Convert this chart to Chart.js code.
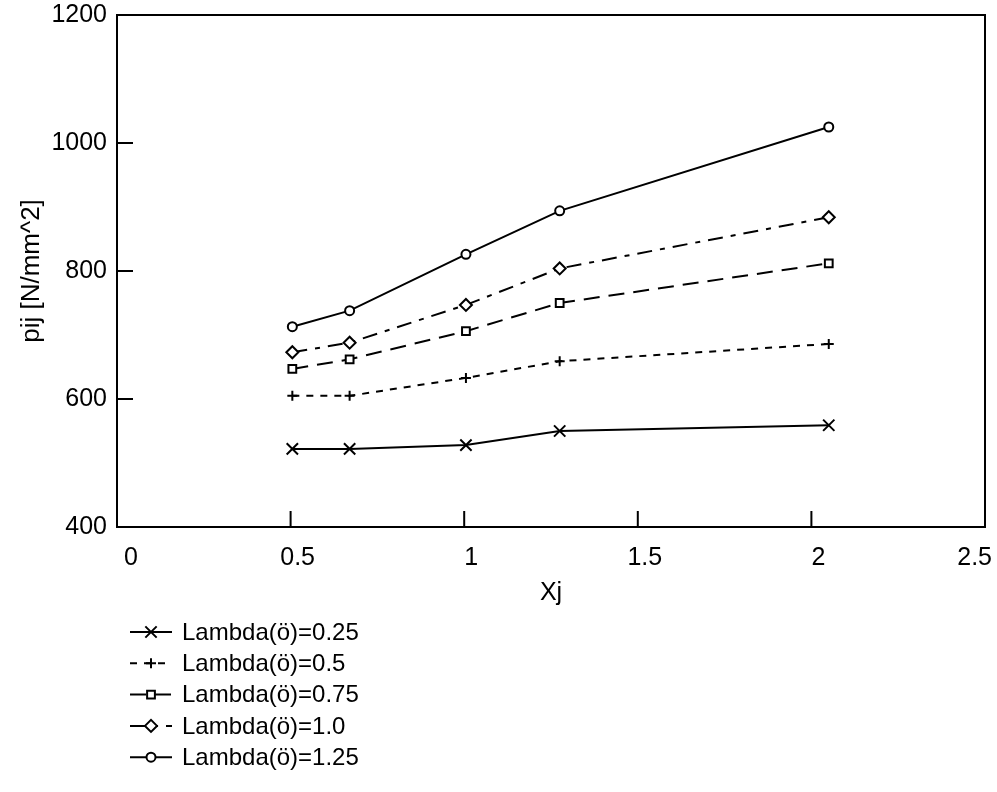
<!DOCTYPE html>
<html>
<head>
<meta charset="utf-8">
<title>pij vs Xj</title>
<script src="https://cdn.jsdelivr.net/npm/chart.js@4/dist/chart.umd.min.js"></script>
<style>
	html, body { margin:0; padding:0; background:#fff; }
	#wrap { width:997px; height:792px; }
</style>
</head>
<body>
<div id="wrap"><canvas id="pijChart" width="997" height="792"></canvas></div>
<script>

// X positions of the measured points (Xj). 
const xValues = [0.505, 0.67, 1.005, 1.275, 2.05];

// pij values [N/mm^2] for each lambda. 
const lambda025 = [522, 522, 528, 550, 559];
const lambda050 = [605, 605, 633, 659, 686];
const lambda075 = [647, 662, 706, 750, 812];
const lambda100 = [673, 688, 747, 804, 884];
const lambda125 = [713, 738, 826, 894, 1025];

// Series names. 
const seriesLabels = ['Lambda(ö)=0.25', 'Lambda(ö)=0.5', 'Lambda(ö)=0.75', 'Lambda(ö)=1.0', 'Lambda(ö)=1.25'];

// Axis ranges and tick steps. 
const xTicks = [0, 0.5, 1, 1.5, 2, 2.5];
const yTicks = [400, 600, 800, 1000, 1200];

var FONT = "'Liberation Sans', Arial, Helvetica, sans-serif";

// Pair x values with y values. 
function pts(ys) {
	return ys.map(function (y, i) { return { x: xValues[i], y: y }; });
}

function series(label, ys, dash, style, radius) {
	return {
		label: label,
		data: pts(ys),
		borderColor: '#000',
		borderWidth: 2,
		borderDash: dash,
		tension: 0,
		fill: false,
		pointStyle: style,
		pointRadius: radius,
		pointHoverRadius: radius,
		pointBorderWidth: 2,
		pointBorderColor: '#000',
		pointBackgroundColor: '#fff'
	};
}

// Frame round the plot and inward tick marks. 
const framePlugin = {
	id: 'frame',
	afterDatasetsDraw(chart) {
		const ctx = chart.ctx;
		const a = chart.chartArea;
		const sx = chart.scales.x, sy = chart.scales.y;
		ctx.save();
		ctx.strokeStyle = '#000';
		ctx.lineWidth = 2;
		ctx.setLineDash([]);
		ctx.strokeRect(a.left, a.top, a.right - a.left, a.bottom - a.top);
		ctx.beginPath();
		xTicks.slice(1, -1).forEach(function (v) {
			const px = sx.getPixelForValue(v);
			ctx.moveTo(px, a.bottom);
			ctx.lineTo(px, a.bottom - 16);
		});
		yTicks.slice(1, -1).forEach(function (v) {
			const py = sy.getPixelForValue(v);
			ctx.moveTo(a.left, py);
			ctx.lineTo(a.left + 16, py);
		});
		ctx.stroke();
		ctx.restore();
	}
};

// Legend stacked one per row under the x axis title. 
const legendPlugin = {
	id: 'stackLegend',
	afterDraw(chart) {
		const ctx = chart.ctx;
		const top = chart.chartArea.bottom + 105;
		ctx.save();
		chart.data.datasets.forEach(function (ds, i) {
			const y = top + i * 31.3;
			ctx.strokeStyle = '#000';
			ctx.lineWidth = 2;
			ctx.setLineDash(ds.borderDash || []);
			ctx.beginPath();
			ctx.moveTo(130, y);
			ctx.lineTo(172, y);
			ctx.stroke();
			ctx.setLineDash([]);
			ctx.fillStyle = '#fff';
			if (Chart.helpers && Chart.helpers.drawPoint) {
				Chart.helpers.drawPoint(ctx, { pointStyle: ds.pointStyle, radius: ds.pointRadius, borderWidth: 2, rotation: 0 }, 151, y);
			}
			ctx.fillStyle = '#000';
			ctx.font = '24px ' + FONT;
			ctx.textAlign = 'left';
			ctx.textBaseline = 'middle';
			ctx.fillText(ds.label, 182, y + 1);
		});
		ctx.restore();
	}
};

const chart = {
	type: 'line',
	data: {
		datasets: [
			series(seriesLabels[0], lambda025, [], 'crossRot', 8),
			series(seriesLabels[1], lambda050, [7, 7], 'cross', 5),
			series(seriesLabels[2], lambda075, [16, 9], 'rect', 5.5),
			series(seriesLabels[3], lambda100, [15, 8, 5, 8], 'rectRot', 6),
			series(seriesLabels[4], lambda125, [], 'circle', 4.5)
		]
	},
	options: {
		responsive: false,
		animation: false,
		devicePixelRatio: 1,
		layout: { padding: { left: 0, right: 12, top: 15, bottom: 180 } },
		plugins: {
			legend: { display: false },
			tooltip: { enabled: false }
		},
		scales: {
			x: {
				type: 'linear',
				min: xTicks[0],
				max: xTicks[xTicks.length - 1],
				grid: { display: false, drawTicks: false },
				border: { display: false },
				ticks: {
					stepSize: 0.5,
					color: '#000',
					font: { family: FONT, size: 25 },
					padding: 16,
					align: 'inner',
					labelOffset: 7,
					maxRotation: 0,
					callback: function (v) { return String(v); }
				},
				title: {
					display: true,
					text: 'Xj',
					color: '#000',
					font: { family: FONT, size: 25 },
					padding: { top: 0, bottom: 4 }
				},
				afterFit: function (s) {
					s.height = 85;
					s.paddingLeft = 0;
					s.paddingRight = 0;
				}
			},
			y: {
				type: 'linear',
				min: yTicks[0],
				max: yTicks[yTicks.length - 1],
				grid: { display: false, drawTicks: false },
				border: { display: false },
				ticks: {
					stepSize: 200,
					color: '#000',
					font: { family: FONT, size: 25 },
					padding: 10,
					callback: function (v) { return String(v); }
				},
				title: {
					display: true,
					text: 'pij [N/mm^2]',
					color: '#000',
					font: { family: FONT, size: 26 },
					padding: { top: 16, bottom: 0 }
				},
				afterFit: function (s) {
					s.width = 117;
					s.paddingTop = 0;
					s.paddingBottom = 0;
				}
			}
		}
	},
	plugins: [framePlugin, legendPlugin]
};

var pijChart = new Chart(document.getElementById('pijChart').getContext('2d'), chart);

</script>
</body>
</html>
